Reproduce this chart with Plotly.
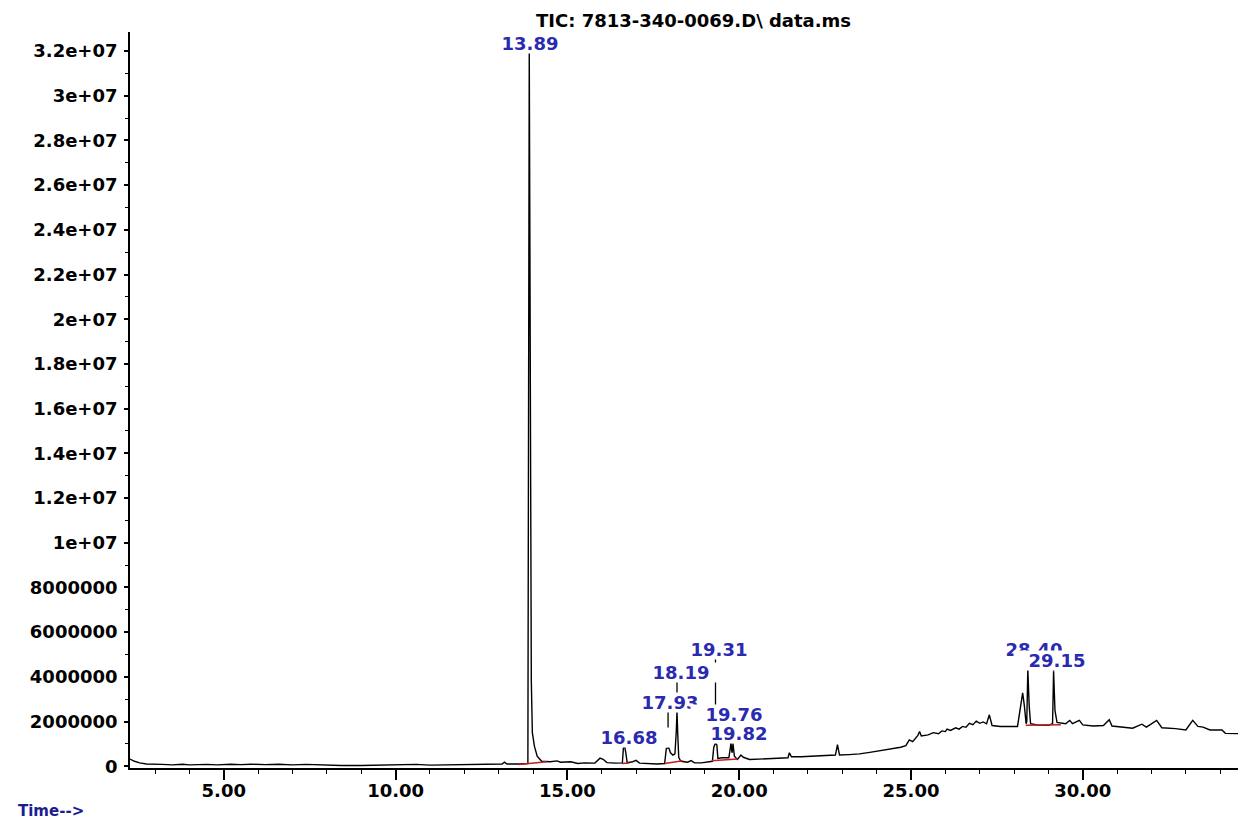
import numpy as np
import plotly.graph_objects as go

# ---------------- data ----------------
# retention time (min) and total ion current (in millions of counts)
time_min = [
    2.27, 2.40, 2.55, 2.75, 3.20, 3.50, 3.80, 4.00, 4.50, 4.80, 5.20, 5.50, 5.80,
    6.20, 6.60, 7.00, 7.40, 7.80, 8.40, 9.00, 9.60, 9.90, 10.20, 10.60, 11.00,
    11.50, 12.00, 12.50, 13.10, 13.17, 13.24, 13.60, 13.85, 13.89, 13.92, 13.95,
    13.98, 14.04, 14.12, 14.25, 14.50, 14.70, 14.80, 15.10, 15.30, 15.50, 15.80,
    15.95, 16.05, 16.15, 16.40, 16.60, 16.63, 16.67, 16.70, 16.74, 16.90, 17.00,
    17.10, 17.40, 17.60, 17.83, 17.88, 17.95, 18.00, 18.07, 18.13, 18.17, 18.19,
    18.21, 18.24, 18.30, 18.50, 18.60, 18.70, 18.90, 19.10, 19.22, 19.26, 19.31,
    19.35, 19.38, 19.50, 19.70, 19.74, 19.76, 19.79, 19.82, 19.86, 19.95, 20.05,
    20.12, 20.30, 20.60, 20.90, 21.20, 21.42, 21.46, 21.52, 21.80, 22.20, 22.50,
    22.80, 22.86, 22.92, 23.20, 23.50, 23.80, 24.10, 24.40, 24.70, 24.85, 24.95,
    25.05, 25.20, 25.25, 25.30, 25.50, 25.65, 25.80, 25.90, 26.00, 26.05, 26.15,
    26.30, 26.40, 26.50, 26.60, 26.70, 26.80, 26.90, 27.00, 27.10, 27.20, 27.28,
    27.36, 27.60, 28.10, 28.20, 28.25, 28.30, 28.35, 28.37, 28.40, 28.44, 28.48,
    28.70, 29.00, 29.12, 29.15, 29.19, 29.25, 29.50, 29.62, 29.70, 29.90, 30.00,
    30.30, 30.60, 30.77, 30.85, 31.20, 31.45, 31.72, 31.85, 32.15, 32.30, 32.70,
    33.00, 33.20, 33.35, 33.50, 33.70, 34.05, 34.15, 34.75,
]
tic_millions = [
    0.32, 0.22, 0.15, 0.10, 0.08, 0.06, 0.09, 0.06, 0.08, 0.06, 0.09, 0.07, 0.09,
    0.07, 0.09, 0.06, 0.08, 0.05, 0.03, 0.03, 0.05, 0.08, 0.06, 0.08, 0.05,
    0.07, 0.08, 0.09, 0.10, 0.18, 0.10, 0.10, 0.12, 32.0, 16.8, 3.8,
    1.5, 0.9, 0.45, 0.22, 0.20, 0.24, 0.18, 0.20, 0.12, 0.15, 0.14,
    0.36, 0.30, 0.16, 0.14, 0.15, 0.82, 0.85, 0.60, 0.16, 0.20, 0.26,
    0.14, 0.12, 0.10, 0.12, 0.80, 0.82, 0.60, 0.50, 0.55, 1.60, 2.45,
    1.50, 0.40, 0.22, 0.18, 0.25, 0.15, 0.15, 0.20, 0.22, 0.85, 1.04,
    0.95, 0.35, 0.38, 0.38, 0.80, 1.05, 0.60, 1.00, 0.45, 0.30, 0.50,
    0.40, 0.30, 0.32, 0.35, 0.38, 0.38, 0.60, 0.42, 0.42, 0.45, 0.48,
    0.50, 0.96, 0.50, 0.52, 0.55, 0.62, 0.70, 0.75, 0.85, 0.92, 1.18,
    1.10, 1.38, 1.55, 1.35, 1.40, 1.50, 1.45, 1.58, 1.55, 1.66, 1.60,
    1.72, 1.66, 1.78, 1.74, 1.92, 1.86, 2.02, 1.92, 1.98, 1.90, 2.30,
    1.82, 1.78, 1.78, 2.70, 3.28, 2.70, 1.90, 2.00, 4.32, 2.70, 1.90,
    1.83, 1.83, 1.90, 4.25, 2.50, 1.96, 1.90, 2.05, 1.90, 2.05, 1.85,
    1.80, 1.82, 2.08, 1.80, 1.75, 1.70, 1.88, 1.75, 2.05, 1.72, 1.68,
    1.62, 2.05, 1.78, 1.75, 1.62, 1.62, 1.47, 1.45,
]

# integrated peaks: label text, retention time, label centre (time, millions)
peak_labels = ["13.89", "16.68", "17.93", "18.19", "19.31", "19.76", "19.82", "28.40", "29.15"]
peak_rt = [13.89, 16.68, 17.93, 18.19, 19.31, 19.76, 19.82, 28.40, 29.15]
label_x = [13.90, 16.80, 18.00, 18.32, 19.41, 19.86, 19.98, 28.59, 29.24]
label_y_millions = [32.35, 1.27, 2.84, 4.18, 5.20, 2.30, 1.46, 5.20, 4.74]

# integration baselines: start/end time and level (millions)
base_t0 = [13.58, 16.58, 17.83, 19.20, 28.34]
base_t1 = [14.40, 16.80, 18.36, 19.95, 29.36]
base_v0 = [0.08, 0.12, 0.12, 0.24, 1.83]
base_v1 = [0.20, 0.14, 0.24, 0.32, 1.86]

# axis ticks
x_tickvals = [5, 10, 15, 20, 25, 30]
x_ticktext = ["5.00", "10.00", "15.00", "20.00", "25.00", "30.00"]
y_tickvals_millions = [0, 2, 4, 6, 8, 10, 12, 14, 16, 18, 20, 22, 24, 26, 28, 30, 32]
y_ticktext = ["0", "2000000", "4000000", "6000000", "8000000", "1e+07", "1.2e+07",
              "1.4e+07", "1.6e+07", "1.8e+07", "2e+07", "2.2e+07", "2.4e+07",
              "2.6e+07", "2.8e+07", "3e+07", "3.2e+07"]

title_text = "TIC: 7813-340-0069.D\\ data.ms"

# ---------------- figure ----------------
M = 1e6
t = np.array(time_min)
tic = np.array(tic_millions) * M

FONT = "DejaVu Sans"
LABEL_BLUE = "#2a2ab0"

fig = go.Figure()

fig.add_trace(go.Scatter(
    x=t, y=tic, mode="lines",
    line=dict(color="black", width=1.4),
    hoverinfo="skip", showlegend=False,
))

# red integration baselines
bx, by = [], []
for a, b, va, vb in zip(base_t0, base_t1, base_v0, base_v1):
    bx += [a, b, None]
    by += [va * M, vb * M, None]
fig.add_trace(go.Scatter(
    x=bx, y=by, mode="lines",
    line=dict(color="#c02020", width=1.5),
    hoverinfo="skip", showlegend=False,
))

# leader lines from label down to peak apex (apex taken from the trace)
shapes = []
for rt, ly in zip(peak_rt, label_y_millions):
    near = np.abs(t - rt) <= 0.031
    apex = tic[near].max()
    shapes.append(dict(type="line", xref="x", yref="y", x0=rt, x1=rt,
                       y0=apex, y1=ly * M, layer="above",
                       line=dict(color="black", width=1.3)))

annotations = []
for txt, lx, ly in zip(peak_labels, label_x, label_y_millions):
    annotations.append(dict(
        x=lx, y=ly * M, xref="x", yref="y", text=txt, showarrow=False,
        xanchor="center", yanchor="middle", width=86, height=19,
        bgcolor="white", borderpad=0,
        font=dict(family=FONT, size=18, color=LABEL_BLUE, weight="bold"),
    ))

annotations.append(dict(
    x=0.505, y=1.0, xref="paper", yref="paper", yshift=12,
    text=title_text, showarrow=False, xanchor="center", yanchor="middle",
    font=dict(family=FONT, size=18, color="black", weight="bold"),
))
annotations.append(dict(
    x=-0.1013, y=-0.0725, xref="paper", yref="paper", borderpad=0,
    text="Time-->", showarrow=False, xanchor="left", yanchor="bottom",
    font=dict(family=FONT, size=15, color="#1c1c90", weight="bold"),
))

# the page body adds an 8 px offset, so the figure is 8 px smaller
fig.update_layout(
    width=1238, height=815, autosize=False,
    margin=dict(l=122, r=0, t=24, b=55),
    paper_bgcolor="white", plot_bgcolor="white",
    font=dict(family=FONT, size=18, color="black", weight="bold"),
    shapes=shapes, annotations=annotations,
    showlegend=False,
)

fig.update_xaxes(
    range=[2.27, 34.75], tickmode="array", tickvals=x_tickvals, ticktext=x_ticktext,
    ticks="outside", ticklen=10, tickwidth=1.5, tickcolor="black",
    showline=True, linecolor="black", linewidth=1.8,
    showgrid=False, zeroline=False, ticklabelstandoff=-5,
    minor=dict(tickmode="linear", tick0=0, dtick=1, ticks="outside",
               ticklen=4, tickwidth=1.3, tickcolor="black", showgrid=False),
    tickfont=dict(family=FONT, size=18, color="black", weight="bold"),
)
fig.update_yaxes(
    range=[-0.08 * M, 32.85 * M], tickmode="array",
    tickvals=[v * M for v in y_tickvals_millions], ticktext=y_ticktext,
    ticks="outside", ticklen=4, tickwidth=1.5, tickcolor="black",
    showline=True, linecolor="black", linewidth=1.8,
    showgrid=False, zeroline=False, ticklabelstandoff=3,
    minor=dict(tickmode="linear", tick0=0, dtick=1 * M, ticks="outside",
               ticklen=3, tickwidth=1.2, tickcolor="black", showgrid=False),
    tickfont=dict(family=FONT, size=18, color="black", weight="bold"),
)

fig.write_html("out.html")
